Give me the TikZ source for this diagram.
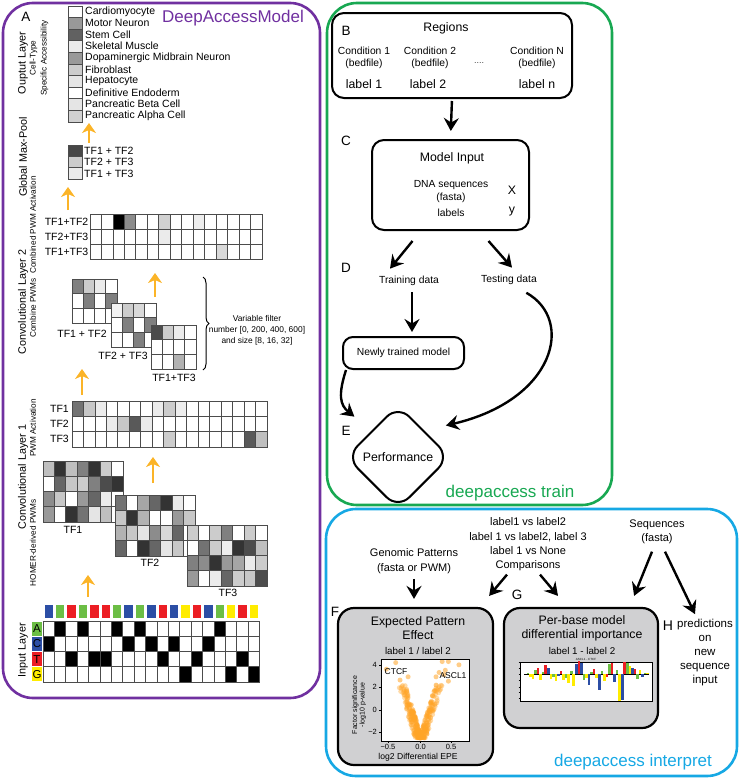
\documentclass[tikz,border=0pt]{standalone}
\usepackage{fontspec}
\setmainfont{Liberation Sans}
\usetikzlibrary{arrows.meta,decorations.pathreplacing,shapes.geometric}

\definecolor{modelpurple}{RGB}{112,48,160}
\definecolor{traingreen}{RGB}{24,168,82}
\definecolor{interpblue}{RGB}{22,168,228}
\definecolor{upyellow}{RGB}{251,180,40}
\definecolor{nucA}{RGB}{108,190,69}
\definecolor{nucC}{RGB}{44,78,165}
\definecolor{nucT}{RGB}{236,30,36}
\definecolor{nucG}{RGB}{255,236,0}
\definecolor{panelgray}{RGB}{208,208,210}
\definecolor{dotorange}{RGB}{255,165,40}

\tikzset{
    cell/.style={draw=black!70, line width=0.8pt},
    uparrow/.style={upyellow, line width=2.3pt, -{Stealth[length=10pt,width=14pt,inset=3pt]}},
    arr/.style={line width=2.4pt, -{Stealth[length=13pt,width=15pt,inset=4.5pt]}},
    roundbox/.style={draw, line width=2pt, rounded corners=12pt},
    panelbox/.style={draw, fill=panelgray, line width=2.2pt, rounded corners=16pt},
    f8/.style={font=\fontsize{8.2}{11}\selectfont},
    f10/.style={font=\fontsize{10.3}{12.5}\selectfont},
    f11/.style={font=\fontsize{11}{14.3}\selectfont},
    f12/.style={font=\fontsize{12.3}{14}\selectfont},
    f17/.style={font=\fontsize{17}{18}\selectfont},
    panellbl/.style={font=\fontsize{13.5}{14}\selectfont},
    rowlbl/.style={anchor=west, inner sep=0pt, font=\fontsize{10.5}{11}\selectfont},
    sidelbl/.style={rotate=90, font=\fontsize{10.8}{12}\selectfont},
    sidesub/.style={rotate=90, align=center, f8},
}

\begin{document}
\begin{tikzpicture}[x=1pt,y=-1pt]
        \useasboundingbox (0,0) rectangle (740,779);

        % frames
        \draw[modelpurple, line width=2.6pt, rounded corners=30pt] (3,3) rectangle (320,698);
        \draw[traingreen, line width=2.6pt, rounded corners=30pt] (327,3) rectangle (612,505);
        \draw[interpblue, line width=2.6pt, rounded corners=30pt] (326,509) rectangle (737,776);

        % ---------------- A: model ----------------
        \node[panellbl] (lblA) at (26,17) {A};
        \node[modelpurple, f17] (titleA) at (233,18) {DeepAccessModel};

        % output layer
        \foreach \g [count=\r from 0] in {0,40,62,8,40,20,10,0,10,18}
        {
            \draw[cell, fill=black!\g] (68,6+\r*11.6) rectangle ++(14,11.6);
        }
        \foreach \name [count=\r from 0] in {Cardiomyocyte,Motor Neuron,Stem Cell,Skeletal Muscle,Dopaminergic Midbrain Neuron,Fibroblast,Hepatocyte,Definitive Endoderm,Pancreatic Beta Cell,Pancreatic Alpha Cell}
        {
            \node[rowlbl] at (85,11.3+\r*11.6) {\name};
        }
        \draw[uparrow] (89,143)--(89,123);

        % global max-pool
        \foreach \g [count=\r from 0] in {72,20,8}
        {
            \draw[cell, fill=black!\g] (68,145+\r*11.3) rectangle ++(14,11.3);
        }
        \foreach \name [count=\r from 0] in {TF1 + TF2,TF2 + TF3,TF1 + TF3}
        {
            \node[rowlbl] at (84,151+\r*11.3) {\name};
        }
        \draw[uparrow] (68,210)--(68,187);

        % combined PWM activation
        \foreach \row [count=\r from 0] in {{0,0,100,45,0,0,18,0,0,7,0,0,0,0,0},{0,0,0,0,0,0,8,0,0,0,0,0,0,0,0},{0,0,0,0,0,0,0,0,0,0,0,15,0,0,0}}
        {
            \foreach \g [count=\c from 0] in \row
                \draw[cell, fill=black!\g] (90+\c*11.47,214+\r*15) rectangle ++(11.47,15);
        }
        \foreach \name [count=\r from 0] in {TF1+TF2,TF2+TF3,TF1+TF3}
        {
            \node[rowlbl, anchor=east] at (88.5,221.5+\r*15) {\name};
        }
        \draw[uparrow] (155,297)--(155,273);

        % combine PWMs
        \foreach \row [count=\r from 0] in {{50,20,8,0},{0,50,0,50},{0,0,0,0}}
        {
            \foreach \g [count=\c from 0] in \row
                \draw[cell, fill=black!\g] (72+\c*11.25,279+\r*14.7) rectangle ++(11.25,14.7);
        }
        \foreach \row [count=\r from 0] in {{5,20,15,0},{0,50,0,50},{0,0,50,0}}
        {
            \foreach \g [count=\c from 0] in \row
                \draw[cell, fill=black!\g] (111+\c*11.25,303+\r*14.7) rectangle ++(11.25,14.7);
        }
        \foreach \row [count=\r from 0] in {{70,20,8,0},{0,0,0,0},{0,0,30,0}}
        {
            \foreach \g [count=\c from 0] in \row
                \draw[cell, fill=black!\g] (151+\c*11.25,325+\r*14.7) rectangle ++(11.25,14.7);
        }
        \node[rowlbl, anchor=center] at (82,334) {TF1 + TF2};
        \node[rowlbl, anchor=center] at (123,356) {TF2 + TF3};
        \node[rowlbl, anchor=center] at (174,378) {TF1+TF3};
        \draw[decorate, decoration={brace, amplitude=6pt}, line width=1pt] (203,277)--(203,370);
        \node[align=center, font=\fontsize{8.4}{11}\selectfont] at (257,330) {Variable filter\\number [0, 200, 400, 600]\\and size [8, 16, 32]};
        \draw[uparrow] (82,395)--(82,369);

        % PWM activation
        \foreach \row [count=\r from 0] in {{55,22,8,0,0,0,0,8,20,7,0,0,0,0,0,0,0},{0,0,0,8,22,65,8,0,0,0,0,0,0,0,0,0,0},{0,0,0,0,0,0,0,0,20,0,0,0,0,0,0,65,25}}
        {
            \foreach \g [count=\c from 0] in \row
                \draw[cell, fill=black!\g] (72+\c*11.47,401+\r*15.3) rectangle ++(11.47,15.3);
        }
        \foreach \name [count=\r from 0] in {TF1,TF2,TF3}
        {
            \node[rowlbl, anchor=east] at (69,408.6+\r*15.3) {\name};
        }
        \draw[uparrow] (153,483)--(153,457);

        % HOMER-derived PWMs
        \foreach \row [count=\r from 0] in {{25,80,25,50,80,20,0},{0,60,22,20,50,70,80},{45,22,0,40,60,8,0},{40,0,80,55,10,25,0}}
        {
            \foreach \g [count=\c from 0] in \row
                \draw[cell, fill=black!\g] (43+\c*11.43,461+\r*15.25) rectangle ++(11.43,15.25);
        }
        \foreach \row [count=\r from 0] in {{55,0,35,60,80,8,0},{22,80,30,0,0,40,22},{30,22,10,45,15,60,0},{60,0,80,60,10,22,0}}
        {
            \foreach \g [count=\c from 0] in \row
                \draw[cell, fill=black!\g] (115+\c*11.43,495+\r*15.25) rectangle ++(11.43,15.25);
        }
        \foreach \row [count=\r from 0] in {{20,0,20,50,0,20,0},{0,55,20,7,80,70,25},{50,45,80,40,35,8,20},{40,0,8,60,20,22,70}}
        {
            \foreach \g [count=\c from 0] in \row
                \draw[cell, fill=black!\g] (187+\c*11.43,525+\r*15.25) rectangle ++(11.43,15.25);
        }
        \node[rowlbl, anchor=center] at (73,530) {TF1};
        \node[rowlbl, anchor=center] at (150,563) {TF2};
        \node[rowlbl, anchor=center] at (228,593) {TF3};
        \draw[uparrow] (88,597)--(88,575);

        % input layer
        \foreach \b/\col [count=\c from 0] in {1/nucC,0/nucA,2/nucT,0/nucA,2/nucT,2/nucT,0/nucA,1/nucC,0/nucA,1/nucC,2/nucT,1/nucC,3/nucG,2/nucT,1/nucC,0/nucA,3/nucG,2/nucT,3/nucG}
        {
            \fill[\col] (44.5+\c*11.4,605) rectangle ++(8.5,13);
            \foreach \r in {0,...,3}
            {
                \pgfmathtruncatemacro\g{ifthenelse(\r==\b,100,0)}
                \draw[cell, fill=black!\g] (43+\c*11.4,621+\r*15.25) rectangle ++(11.4,15.25);
            }
        }
        \foreach \n/\col [count=\r from 0] in {A/nucA,C/nucC,T/nucT,G/nucG}
        {
            \node[fill=\col, minimum width=10pt, minimum height=14pt, inner sep=0pt, font=\fontsize{11.5}{12}\selectfont] at (37,628.6+\r*15.25) {\n};
        }

        % layer names
        \node[sidelbl] at (23,63) {Ouptut Layer};
        \node[sidesub] at (39,58) {Cell-Type\\Specific Accessibility};
        \node[sidelbl] at (23,157) {Global Max-Pool};
        \node[sidesub] at (33,225) {Combined PWM Activation};
        \node[sidelbl] at (23,302) {Convolutional Layer 2};
        \node[sidesub] at (33,308) {Combine PWMs};
        \node[sidelbl] at (23,477) {Convolutional Layer 1};
        \node[sidesub] at (33,428) {PWM Activation};
        \node[sidesub] at (33,543) {HOMER-derived PWMs};
        \node[sidelbl] at (23,650) {Input Layer};

        % ---------------- B-E: train ----------------
        \node[roundbox, minimum width=240pt, minimum height=85pt] (regions) at (452,55.5) {};
        \node[panellbl] (lblB) at (346,31) {B};
        \node[f12] (regtitle) at (446,28) {Regions};
        \node[f10, align=center] (cond1) at (364,58) {Condition 1\\(bedfile)};
        \node[f10, align=center] (cond2) at (430,58) {Condition 2\\(bedfile)};
        \node[f10, align=center] (condN) at (537,58) {Condition N\\(bedfile)};
        \node[font=\fontsize{9}{10}\selectfont, black!75] (dots) at (479,63) {....};
        \node[f12] (lab1) at (364,84) {label 1};
        \node[f12] (lab2) at (428,84) {label 2};
        \node[f12] (labn) at (537,84) {label n};

        \node[panellbl] (lblC) at (346,141) {C};
        \node[roundbox, minimum width=157pt, minimum height=90pt] (modelin) at (450.5,185) {};
        \node[f12] (mitit) at (452,158) {Model Input};
        \node[f10, align=center, font=\fontsize{10.3}{13}\selectfont] (dnaseq) at (451,191.5) {DNA sequences\\(fasta)};
        \node[f10] (labels) at (451,213) {labels};
        \node[f12] (xvar) at (512,190) {X};
        \node[f12] (yvar) at (512,212) {y};
        \draw[arr, shorten >=8pt, shorten <=2pt] (regions.south)--(modelin.north);

        \node[panellbl] (lblD) at (346,268) {D};
        \node[f10] (train) at (409,281) {Training data};
        \node[f10] (test) at (509,280) {Testing data};
        \draw[arr] ([xshift=-38pt,yshift=-10pt]modelin.south)--([xshift=-19pt,yshift=4pt]train.north);
        \draw[arr] ([xshift=38pt,yshift=-10pt]modelin.south)--([xshift=3pt,yshift=4pt]test.north);

        \node[roundbox, rounded corners=10pt, minimum width=121pt, minimum height=32pt, f10] (newly) at (403.5,353) {Newly trained model};
        \draw[arr, shorten <=3pt, shorten >=4pt] ([xshift=3pt]train.south)--([xshift=3pt]train.south |- newly.north);

        \node[panellbl] (lblE) at (346,431) {E};
        \node[draw, diamond, line width=2pt, rounded corners=16pt, minimum size=104pt, inner sep=0pt, f12] (perf) at (398,457) {Performance};
        \draw[arr, shorten >=22pt] ([xshift=4pt]newly.south west) .. controls (338,395) and (340,405) .. (perf.north west);
        \draw[arr, shorten <=5pt, shorten >=22pt] ([xshift=13pt,yshift=-2pt]test.south) .. controls (575,320) and (555,400) .. (perf.north east);

        \node[traingreen, f17] (titleB) at (510,493) {deepaccess train};

        % ---------------- F-H: interpret ----------------
        \node[f11, align=center] (comp) at (528,544.5) {label1 vs label2\\label 1 vs label2, label 3\\label 1 vs None\\Comparisons};
        \node[f11, align=center] (genomic) at (414,561) {Genomic Patterns\\(fasta or PWM)};
        \node[f11, align=center] (seqs) at (657,532) {Sequences\\(fasta)};
        \node[panelbox, minimum width=155pt, minimum height=157pt] (boxF) at (415.5,686.5) {};
        \node[panelbox, minimum width=154pt, minimum height=120pt] (boxG) at (581,668) {};
        \node[align=center, font=\fontsize{11.5}{14}\selectfont] (pred) at (705,653) {predictions\\on\\new\\sequence\\input};

        \draw[arr, shorten <=2pt, shorten >=8pt] (genomic.south)--(genomic.south |- boxF.north);
        \draw[arr] ([xshift=-21pt]comp.south)--([xshift=-5pt,yshift=11pt]boxF.north east);
        \draw[arr] ([xshift=12pt]comp.south)--([xshift=-23pt,yshift=11pt]boxG.north);
        \draw[arr] ([xshift=-5pt,yshift=-4pt]seqs.south)--([xshift=-25pt,yshift=11pt]boxG.north east);
        \draw[arr] ([xshift=8pt,yshift=-4pt]seqs.south)--([xshift=-10pt,yshift=2pt]pred.north);

        \node[panellbl] (lblF) at (335,612) {F};
        \node[panellbl] (lblG) at (517,595) {G};
        \node[font=\fontsize{14}{15}\selectfont] (lblH) at (668,626) {H};

        % F: volcano plot
        \node[f12, align=center] (ftitle) at (418,628) {Expected Pattern\\Effect};
        \node[font=\fontsize{9.8}{11}\selectfont] (fsub) at (418,651) {label 1 / label 2};
        \fill[white] (381,659) rectangle (469,741);
        \begin{scope}
            \clip (381,659) rectangle (469,741);
            \pgfmathsetseed{11}
            \foreach \i in {1,...,320}
            {
                \pgfmathsetmacro\vy{-2.6+4.9*rnd^1.6}
                \pgfmathsetmacro\sg{ifthenelse(rnd>0.5,1,-1)}
                \pgfmathsetmacro\vx{\sg*(0.055*(\vy+2.6)+0.11*rnd^1.5-0.02)}
                \fill[dotorange, fill opacity=0.4] (420.5+62*\vx,709.5-10.9*\vy) circle[radius=2.5pt];
            }
            \foreach \vx/\vy in {-0.55/3.7,-0.4/4.3,0.35/4.4,0.45/4.4,0.62/4.1,0.3/3.4,0.38/3.2,0.45/2.6,0.25/3.0,-0.2/3.0,0.4/3.6,-0.33/2.7}
            {
                \fill[dotorange, fill opacity=0.55] (420.5+62*\vx,709.5-10.9*\vy) circle[radius=2.5pt];
            }
        \end{scope}
        \draw[line width=0.8pt] (381,659) rectangle (469,741);
        \foreach \v/\t in {665/4,687/2,710/0,732/−2}
        {
            \draw[line width=0.6pt] (379,\v)--(381,\v);
            \node[anchor=east, inner sep=1pt, font=\fontsize{7.5}{8}\selectfont] at (378,\v) {\t};
        }
        \foreach \u/\t in {388/−0.5,420.5/0.0,451/0.5}
        {
            \draw[line width=0.6pt] (\u,741)--(\u,743);
            \node[anchor=north, inner sep=1pt, font=\fontsize{7.5}{8}\selectfont] at (\u,743) {\t};
        }
        \node[font=\fontsize{8.6}{9}\selectfont] (fxlab) at (418,757) {log2 Differential EPE};
        \node[rotate=90, align=center, font=\fontsize{7}{7.6}\selectfont] (fylab) at (359,705) {Factor significance\\-log10 p-value};
        \node[font=\fontsize{8.5}{9}\selectfont] (ctcf) at (396,672) {CTCF};
        \node[font=\fontsize{8.5}{9}\selectfont] (ascl) at (453,676) {ASCL1};

        % G: per-base importance
        \node[f12, align=center] (gtitle) at (582,628) {Per-base model\\differential importance};
        \node[font=\fontsize{9.8}{11}\selectfont] (gsub) at (582,651) {label 1 - label 2};
        \draw[fill=white, line width=0.6pt] (520,662) rectangle (652,701);
        \node[font=\fontsize{3}{3}\selectfont, inner sep=0pt] (gplot) at (586,659.5) {ASCL1 - CTCF};
        \foreach \v in {662,668,674,680,687,692,698}
        {
            \draw[line width=0.3pt] (518.5,\v)--(520,\v);
        }
        \draw[line width=0.3pt] (524,674)--(649,674);
        \foreach \col/\v [count=\i] in {nucA/1,nucG/-3,nucG/-5,nucA/4,nucT/6,nucG/-6,nucA/2,nucT/9,nucC/6,nucG/-5,nucA/-3,nucG/-7,nucC/-2,nucT/3,nucG/-6,nucA/-4,nucG/-9,nucA/3,nucG/-12,nucC/10,nucT/13,nucC/11,nucA/-6,nucG/-4,nucC/-11,nucA/2,nucT/5,nucG/-4,nucC/-16,nucA/3,nucG/-7,nucT/-3,nucA/10,nucT/11,nucC/-8,nucA/4,nucG/-27,nucC/-26,nucT/12,nucA/11,nucG/8,nucC/6,nucT/5,nucA/-5,nucG/4,nucC/-3,nucA/1,nucG/1}
        {
            \fill[\col] (524+\i*2.55,674) rectangle (526.6+\i*2.55,{674-(\v)});
        }

        \node[interpblue, f17] (titleC) at (633,762) {deepaccess interpret};
\end{tikzpicture}
\end{document}
